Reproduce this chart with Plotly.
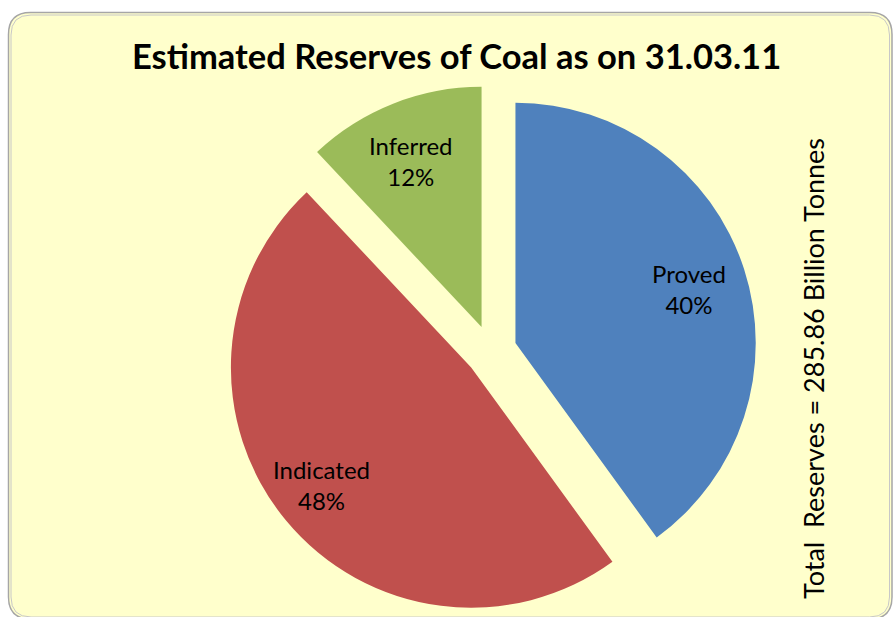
import plotly.graph_objects as go

categories = ["Proved", "Indicated", "Inferred"]
shares = [40, 48, 12]
colors = ["#4F81BD", "#C0504D", "#9BBB59"]
title_text = "Estimated Reserves of Coal as on 31.03.11"
side_note = "Total  Reserves = 285.86 Billion Tonnes"

W, H = 894, 617

def px(x):
    return x / W

def py(y):
    return 1 - y / H

fig = go.Figure()
fig.add_trace(go.Pie(
    labels=categories,
    values=shares,
    sort=False,
    direction="clockwise",
    rotation=0,
    pull=[0.107, 0.107, 0.107],
    marker=dict(colors=colors, line=dict(width=0)),
    textinfo="none",
    showlegend=False,
    hoverinfo="label+percent",
    domain=dict(x=[px(225), px(757)], y=[0, py(85)]),
))

# slice labels (text from the data, placed at the reference's label spots)
label_pos = {"Proved": (689, 289), "Indicated": (321, 485), "Inferred": (411, 161)}
total = sum(shares)
for cat, val in zip(categories, shares):
    x, y = label_pos[cat]
    fig.add_annotation(text=f"{cat}<br>{round(100 * val / total)}%",
                       xref="paper", yref="paper", x=px(x), y=py(y),
                       xanchor="center", yanchor="middle", showarrow=False,
                       font=dict(family="Lato", size=24, color="black"))

def rounded_path(x0, y0, x1, y1, r):
    return (f"M {px(x0)},{py(y0 + r)} "
            f"Q {px(x0)},{py(y0)} {px(x0 + r)},{py(y0)} "
            f"L {px(x1 - r)},{py(y0)} "
            f"Q {px(x1)},{py(y0)} {px(x1)},{py(y0 + r)} "
            f"L {px(x1)},{py(y1 - r)} "
            f"Q {px(x1)},{py(y1)} {px(x1 - r)},{py(y1)} "
            f"L {px(x0 + r)},{py(y1)} "
            f"Q {px(x0)},{py(y1)} {px(x0)},{py(y1 - r)} Z")

fig.add_shape(type="path", xref="paper", yref="paper", layer="below",
              path=rounded_path(8.5, 12.5, 892, 619, 22),
              fillcolor="#FFFFCC", line=dict(color="#A6A6A6", width=1.5))
fig.add_shape(type="path", xref="paper", yref="paper", layer="below",
              path=rounded_path(11, 15, 889.5, 617, 20),
              fillcolor="rgba(0,0,0,0)", line=dict(color="#C8C8C8", width=1))

fig.add_annotation(text=f"<b>{title_text}</b>", xref="paper", yref="paper",
                   x=px(456), y=py(55), xanchor="center", yanchor="middle",
                   showarrow=False, font=dict(family="Lato", size=34.5, color="black"))
fig.add_annotation(text=side_note, xref="paper", yref="paper",
                   x=px(813), y=py(369), xanchor="center", yanchor="middle",
                   textangle=-90, showarrow=False,
                   font=dict(family="Lato", size=27, color="black"))

fig.update_layout(width=W, height=H, margin=dict(l=0, r=0, t=0, b=0),
                  paper_bgcolor="white", plot_bgcolor="white")
fig.write_html("out.html",
               config={"displayModeBar": False},
               post_script="document.body.style.margin='0';"
                           "document.body.style.overflow='hidden';")
